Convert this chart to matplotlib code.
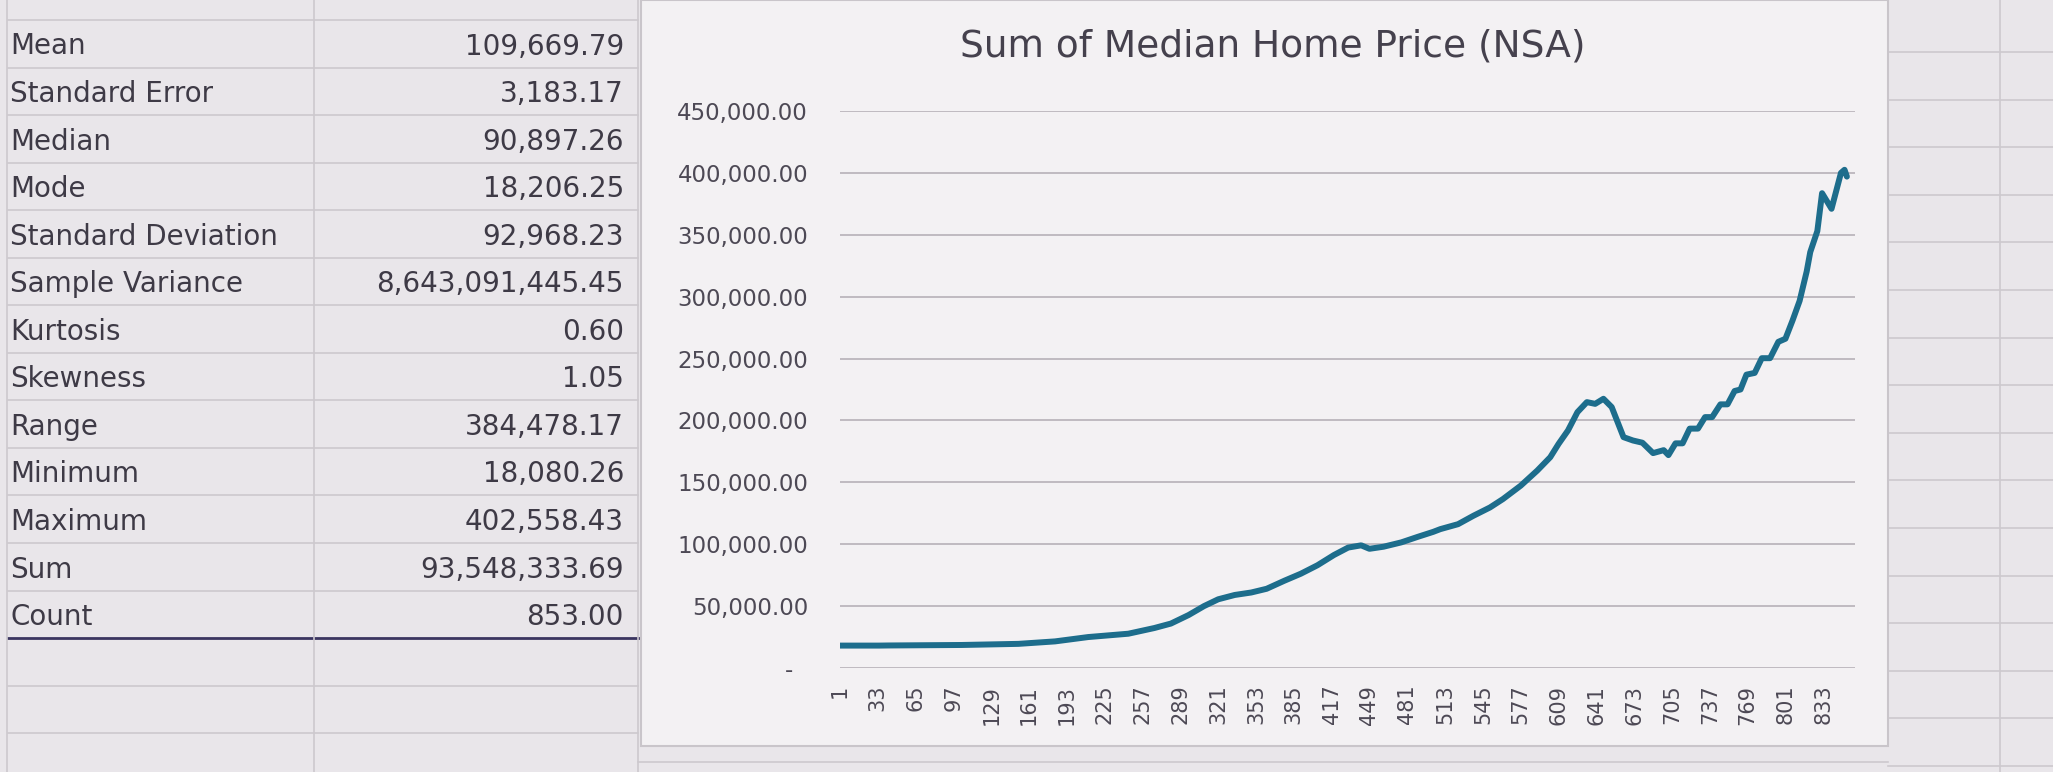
"""Descriptive statistics table next to an Excel-style line chart of median home prices."""

import matplotlib

matplotlib.use("Agg")
import matplotlib.pyplot as plt
from matplotlib.lines import Line2D
from matplotlib.patches import Rectangle
from matplotlib.ticker import FixedLocator, FuncFormatter

# descriptive statistics block
stat_labels = [
    "Mean", "Standard Error", "Median", "Mode", "Standard Deviation",
    "Sample Variance", "Kurtosis", "Skewness", "Range", "Minimum",
    "Maximum", "Sum", "Count",
]
stat_values = [
    109669.79, 3183.17, 90897.26, 18206.25, 92968.23,
    8643091445.45, 0.60, 1.05, 384478.17, 18080.26,
    402558.43, 93548333.69, 853.00,
]

obs_index = [
    1, 34, 42, 104, 152, 183, 211, 245, 267, 281, 296, 309, 321, 335, 349,
    362, 377, 391, 405, 419, 431, 442, 449, 461, 476, 490, 503, 509, 524,
    537, 551, 562, 577, 591, 602, 609, 617, 625, 633, 640, 647, 654, 664,
    672, 680, 689, 698, 702, 708, 714, 720, 727, 733, 739, 746, 752, 758,
    763, 768, 775, 781, 788, 795, 801, 807, 813, 819, 822, 828, 832, 840,
    848, 851, 853,
]
median_price = [
    18100, 18100, 18200, 18600, 19500, 21500, 25000, 27700, 32300, 35900,
    42800, 50000, 55500, 59000, 61000, 64000, 70500, 76200, 83000, 91300,
    97300, 99100, 96300, 98000, 101500, 106000, 110000, 112200, 116200,
    123000, 129700, 136500, 147300, 159500, 170300, 181000, 191900, 206700,
    214800, 213400, 217500, 210800, 186500, 183800, 182000, 173600, 176000,
    172000, 181500, 181500, 193400, 193400, 202700, 202700, 213000, 213000,
    223800, 225000, 237000, 238400, 250300, 250300, 263500, 266000, 280700,
    296600, 320400, 336000, 353000, 383600, 371000, 400000, 402500, 397000,
]
x_tick_values = list(range(1, 854, 32))
y_tick_values = list(range(0, 450001, 50000))

W, H = 2053, 772
BG = "#e9e6ea"
PANEL = "#f3f1f3"
SHEET_LINE = "#cdc9ce"
TEXT = "#3e3a46"
LINE_COLOR = "#1d6d8c"


def fx(x):
    return x / W


def fy(y):
    return 1 - y / H


def sheet_line(fig, x0, y0, x1, y1, color=SHEET_LINE, lw=1.2):
    fig.add_artist(Line2D([fx(x0), fx(x1)], [fy(y0), fy(y1)], color=color,
                          linewidth=lw, transform=fig.transFigure, zorder=-2))


fig = plt.figure(figsize=(W / 100, H / 100), dpi=100, facecolor=BG)

# spreadsheet cell grid on the left
row_lines = [20 + 47.55 * k for k in range(16)]
for k, y in enumerate(row_lines):
    if k == 13:
        sheet_line(fig, 8, y, 638, y, color="#3b3560", lw=2.0)
    else:
        sheet_line(fig, 8, y, 638, y)
for x in (7, 314, 638):
    sheet_line(fig, x, 0, x, H)

# spreadsheet cells on the right of the chart
for k in range(16):
    y = 52 + 47.6 * k
    sheet_line(fig, 1888, y, W, y)
sheet_line(fig, 2000, 0, 2000, H)
sheet_line(fig, 638, 762, 1888, 762)

# chart panel
fig.add_artist(Rectangle((fx(641), fy(746)), fx(1888) - fx(641), fy(0) - fy(746),
                         facecolor=PANEL, edgecolor="#c9c5ca", linewidth=1.5,
                         transform=fig.transFigure, zorder=-1))

# statistics text
for k, (label, value) in enumerate(zip(stat_labels, stat_values)):
    base = 44.5 + 47.55 * k + 10
    fig.text(fx(10), fy(base), label, fontsize=20, color=TEXT,
             ha="left", va="baseline")
    fig.text(fx(624), fy(base), f"{value:,.2f}", fontsize=20, color=TEXT,
             ha="right", va="baseline")

fig.text(fx(1273), fy(57), "Sum of Median Home Price (NSA)", fontsize=27,
         color="#45414d", ha="center", va="baseline")

# plot area
left, right, top, bottom = 840, 1855, 111, 668
ax = fig.add_axes([fx(left), fy(bottom), fx(right) - fx(left), fy(top) - fy(bottom)])
ax.patch.set_alpha(0)
ax.plot(obs_index, median_price, color=LINE_COLOR, linewidth=4.3,
        solid_joinstyle="round", solid_capstyle="round", zorder=3)

ax.set_ylim(0, 450000)
ax.set_xlim(1, 1 + 852 / 0.992)
ax.yaxis.set_major_locator(FixedLocator(y_tick_values))
ax.yaxis.set_major_formatter(FuncFormatter(lambda v, _: "-  " if v == 0 else f"{v:,.2f}"))
ax.set_xticks(x_tick_values)
ax.set_xticklabels([str(v) for v in x_tick_values], rotation=90, ha="center", va="top")
ax.grid(axis="y", color="#bfbac0", linewidth=1.4)
ax.set_axisbelow(True)
ax.tick_params(axis="y", length=0, pad=23, labelsize=16.5, labelcolor="#4d4955")
ax.tick_params(axis="x", length=0, pad=12, labelsize=15, labelcolor="#4d4955")
for spine in ax.spines.values():
    spine.set_visible(False)

fig.savefig("out.png", dpi=100, facecolor=BG)
